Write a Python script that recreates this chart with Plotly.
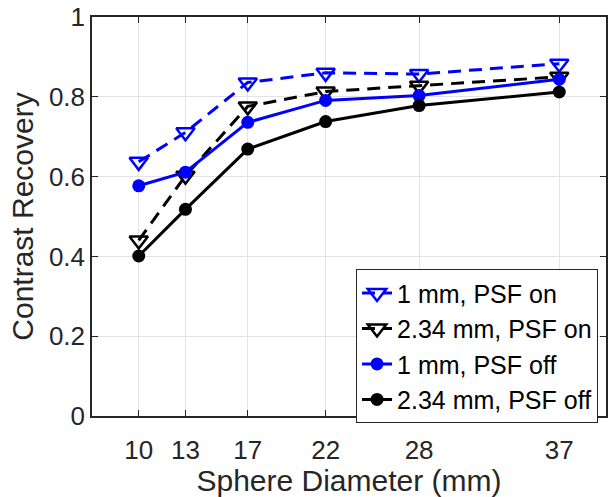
import plotly.graph_objects as go

diameters = [10, 13, 17, 22, 28, 37]
psf_on_1mm = [0.637, 0.711, 0.836, 0.860, 0.857, 0.883]
psf_on_234mm = [0.440, 0.602, 0.776, 0.813, 0.828, 0.850]
psf_off_1mm = [0.577, 0.611, 0.736, 0.791, 0.803, 0.844]
psf_off_234mm = [0.401, 0.518, 0.669, 0.738, 0.778, 0.812]
names = ["1 mm, PSF on", "2.34 mm, PSF on", "1 mm, PSF off", "2.34 mm, PSF off"]
yticks = [0, 0.2, 0.4, 0.6, 0.8, 1]

BLUE = "rgb(0,0,255)"
BLACK = "rgb(0,0,0)"
AX = "#262626"
FONT = "Liberation Sans, Arial, sans-serif"

fig = go.Figure()
series = [
    (psf_on_1mm, names[0], BLUE, "13px,8px", "triangle-down-open"),
    (psf_on_234mm, names[1], BLACK, "13px,8px", "triangle-down-open"),
    (psf_off_1mm, names[2], BLUE, "solid", "circle"),
    (psf_off_234mm, names[3], BLACK, "solid", "circle"),
]
for vals, name, col, dash, sym in series:
    open_marker = sym.endswith("open")
    fig.add_trace(go.Scatter(
        x=diameters, y=vals, name=name, mode="lines+markers",
        line=dict(color=col, width=3, dash=dash),
        marker=dict(symbol=sym, size=16 if open_marker else 13, color=col,
                    line=dict(color=col, width=2.5 if open_marker else 0)),
    ))

fig.update_layout(
    width=608, height=497,
    margin=dict(l=92, r=0, t=17, b=81),
    paper_bgcolor="white", plot_bgcolor="white",
    font=dict(family=FONT, size=26, color=AX),
    showlegend=True,
    legend=dict(
        x=0.9845, xanchor="right", y=0.368, yanchor="top",
        bgcolor="white", bordercolor=AX, borderwidth=1,
        font=dict(family=FONT, size=25, color="black"),
        tracegroupgap=0, itemwidth=30,
    ),
)
fig.update_xaxes(
    range=[7, 40], tickvals=diameters, ticktext=[str(d) for d in diameters],
    showgrid=True, gridcolor="#e3e3e3", gridwidth=1,
    showline=True, linecolor=AX, linewidth=1.5, mirror="ticks",
    ticks="inside", ticklen=6, tickcolor=AX, zeroline=False,
    tickfont=dict(size=26, color=AX), ticklabelstandoff=10,
    title=dict(text="Sphere Diameter (mm)", font=dict(size=30, color=AX), standoff=0),
)
fig.update_yaxes(
    range=[0, 1], tickvals=yticks,
    showgrid=True, gridcolor="#e3e3e3", gridwidth=1,
    showline=True, linecolor=AX, linewidth=1.5, mirror="ticks",
    ticks="inside", ticklen=6, tickcolor=AX, zeroline=False,
    tickfont=dict(size=26, color=AX),
    title=dict(text="Contrast Recovery", font=dict(size=30, color=AX), standoff=6),
)
fig.write_html("out.html")
